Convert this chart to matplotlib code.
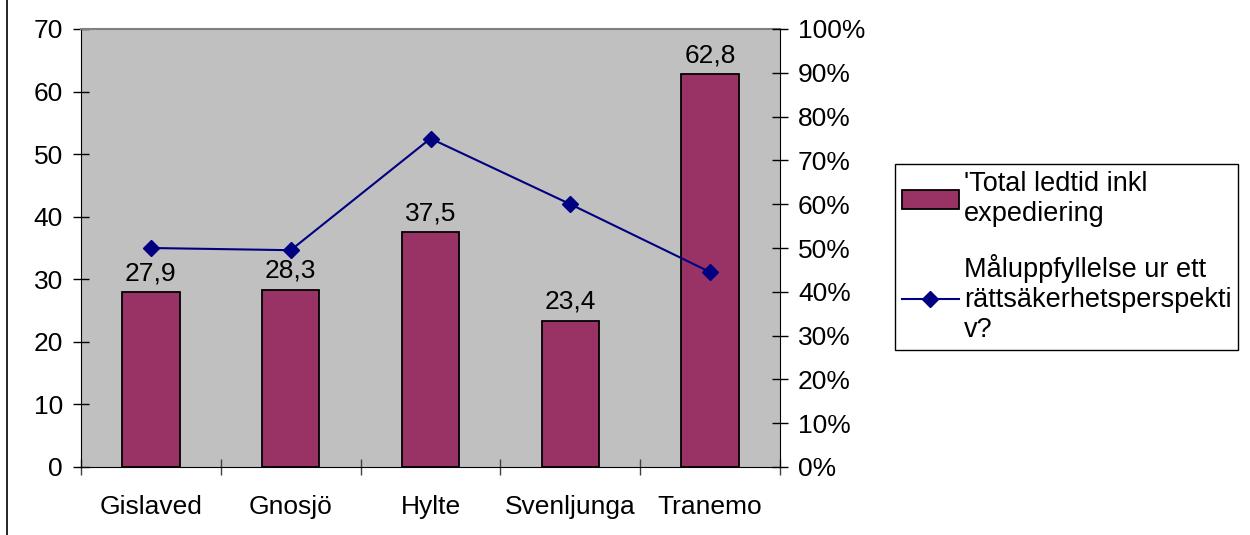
import matplotlib
matplotlib.use("Agg")
import matplotlib.pyplot as plt
from matplotlib.lines import Line2D
from matplotlib.patches import Patch
from matplotlib.ticker import FuncFormatter

plt.rcParams['font.family'] = ['Liberation Sans', 'DejaVu Sans']

categories = ["Gislaved", "Gnosjö", "Hylte", "Svenljunga", "Tranemo"]
ledtid = [27.9, 28.3, 37.5, 23.4, 62.8]
maluppfyllelse = [0.50, 0.495, 0.75, 0.60, 0.445]
bar_labels = ["27,9", "28,3", "37,5", "23,4", "62,8"]
legend_labels = ["'Total ledtid inkl\nexpediering",
                 "Måluppfyllelse ur ett\nrättsäkerhetsperspekti\nv?"]

W, H = 1250, 535
FS = 19
fig = plt.figure(figsize=(W / 100, H / 100), dpi=100)
fig.patch.set_facecolor("white")

left, right, top, bottom = 81, 780, 29, 467
ax = fig.add_axes([left / W, 1 - bottom / H, (right - left) / W, (bottom - top) / H])
ax.set_facecolor("#C0C0C0")

x = list(range(len(categories)))
ax.bar(x, ledtid, width=0.41, color="#993366", edgecolor="black", linewidth=1.3, zorder=2)
for xi, v, lab in zip(x, ledtid, bar_labels):
    ax.annotate(lab, (xi, v), xytext=(0, 5), textcoords="offset points",
                ha="center", va="bottom", fontsize=FS)

ax.set_xlim(-0.5, len(categories) - 0.5)
ax.set_ylim(0, 70)
ax.set_yticks(range(0, 71, 10))
ax.set_xticks([i + 0.5 for i in range(-1, len(categories))])
ax.set_xticklabels([])
ax.set_xticks(x, minor=True)
ax.set_xticklabels(categories, minor=True, fontsize=FS)
ax.tick_params(axis="x", which="minor", length=0, pad=20)
ax.tick_params(axis="x", which="major", direction="inout", length=12, width=1, color="#404040")
ax.tick_params(axis="y", direction="inout", length=12, width=1, labelsize=FS, pad=7)
for s in ["top", "right"]:
    ax.spines[s].set_visible(False)
ax.spines["left"].set_color("black")
ax.spines["bottom"].set_color("black")

ax2 = ax.twinx()
ax2.plot(x, maluppfyllelse, color="#000080", marker="D", markersize=8, linewidth=1.5, zorder=3)
ax2.set_ylim(0, 1)
ax2.set_yticks([i / 10 for i in range(11)])
ax2.yaxis.set_major_formatter(FuncFormatter(lambda v, p: f"{int(round(v * 100))}%"))
ax2.tick_params(axis="y", direction="inout", length=12, width=1, labelsize=FS, pad=7)
for s in ["top", "left", "bottom"]:
    ax2.spines[s].set_visible(False)
ax2.spines["right"].set_color("black")

# top border line of plot area
ax.axhline(70, color="#808080", linewidth=1.5, zorder=4, clip_on=False)

handles = [Patch(facecolor="#993366", edgecolor="black", linewidth=1.3),
           Line2D([0], [0], color="#000080", marker="D", markersize=8, linewidth=1.5)]
leg = fig.legend(handles, legend_labels, loc="upper left",
                 bbox_to_anchor=(895 / W, 1 - 164 / H), fontsize=19.5,
                 frameon=True, fancybox=False, edgecolor="black", framealpha=1,
                 handlelength=2.1, handleheight=0.7, handletextpad=0.2, labelspacing=1.0,
                 borderpad=0.25, borderaxespad=0)
leg.get_frame().set_linewidth(1)

# partial outer chart border at left
fig.add_artist(Line2D([7 / W, 7 / W], [0, 1], color="black", linewidth=1.2,
                      transform=fig.transFigure))

fig.savefig("out.png", dpi=100)
